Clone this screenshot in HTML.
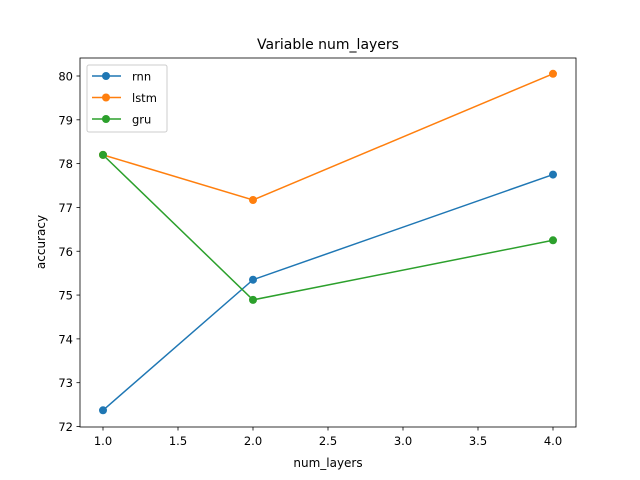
<!DOCTYPE html>
<html><head><meta charset="utf-8"><style>
body{margin:0;background:#fff;}
svg{display:block;font-family:"DejaVu Sans","Liberation Sans",sans-serif;}
</style></head><body>
<svg id="chart" width="640" height="480">
<rect width="640" height="480" fill="#fff"/>
<text x="328" y="49" font-size="14" text-anchor="middle">Variable num_layers</text>
<g id="ticks"></g>
<g id="series"></g>
<rect x="80" y="58" width="496" height="369" fill="none" stroke="#000" stroke-width="0.8"/>
<text x="328" y="467" font-size="12" text-anchor="middle">num_layers</text>
<text x="45" y="242" font-size="12" text-anchor="middle" transform="rotate(-90 45 242)">accuracy</text>
<g id="legend">
<rect x="87" y="65" width="80" height="67" fill="#fff" fill-opacity="0.8" stroke="#ccc" rx="2"/>
</g>
</svg>
<script>
const xs = [1, 2, 4];
const seriesNames = ["rnn", "lstm", "gru"];
const rnnValues = [72.37, 75.35, 77.75];
const lstmValues = [78.2, 77.17, 80.05];
const gruValues = [78.2, 74.89, 76.25];
const xTicks = [1.0, 1.5, 2.0, 2.5, 3.0, 3.5, 4.0];
const yTicks = [72, 73, 74, 75, 76, 77, 78, 79, 80];
const colors = ["#1f77b4", "#ff7f0e", "#2ca02c"];
const NS = "http://www.w3.org/2000/svg";
function xp(v){return 103 + (v-1)*150;}
function yp(v){return 426.5 - (v-72)*43.8125;}
function mk(tag, attrs, parent){const e=document.createElementNS(NS,tag);for(const k in attrs)e.setAttribute(k,attrs[k]);parent.appendChild(e);return e;}
const tg=document.getElementById('ticks');
xTicks.forEach(t=>{
  const l=mk('line',{x1:xp(t),x2:xp(t),y1:427,y2:430.5,stroke:'#000','stroke-width':0.8},tg);
  
  
  const tx=mk('text',{x:xp(t),y:445,'font-size':11.5,'text-anchor':'middle'},tg);
  tx.textContent=t.toFixed(1);
  
  
});
yTicks.forEach(t=>{
  const l=mk('line',{x1:76.5,x2:80,y1:yp(t),y2:yp(t),stroke:'#000','stroke-width':0.8},tg);
  
  
  const tx=mk('text',{x:73,y:yp(t)+4.5,'font-size':11.5,'text-anchor':'end'},tg);
  tx.textContent=String(t);
  
  
});
const sg=document.getElementById('series');
[rnnValues,lstmValues,gruValues].forEach((vals,i)=>{
  const g=mk('g',{},sg);
  
  
  mk('polyline',{points:vals.map((v,j)=>xp(xs[j])+','+yp(v)).join(' '),fill:'none',stroke:colors[i],'stroke-width':1.5},g);
  vals.forEach((v,j)=>{
    const c=mk('circle',{cx:xp(xs[j]),cy:yp(v),r:4,fill:colors[i]},g);
    
    
  });
});
const lg=document.getElementById('legend');
seriesNames.forEach((n,i)=>{
  const y=76+i*21.5;
  const g=mk('g',{},lg);
  
  
  mk('line',{x1:92,x2:121,y1:y,y2:y,stroke:colors[i],'stroke-width':1.5},g);
  mk('circle',{cx:106,cy:y,r:4,fill:colors[i]},g);
  const t=mk('text',{x:132,y:y+4.5,'font-size':11.5},g);
  t.textContent=n;
});
</script>
</body></html>
